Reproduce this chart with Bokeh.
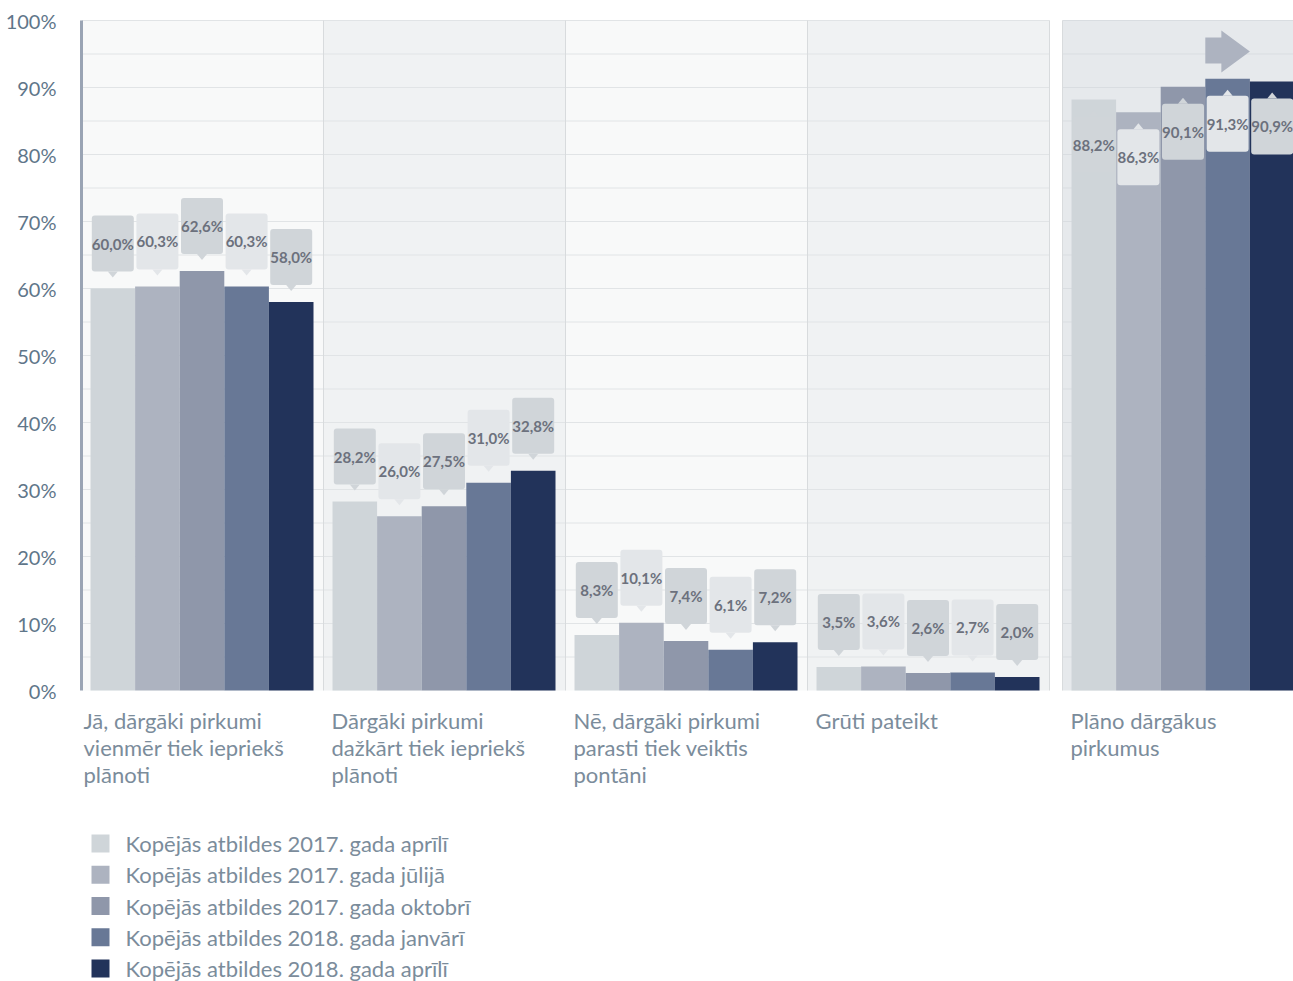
from bokeh.plotting import figure
from bokeh.models import Range1d, FixedTicker, ColumnDataSource
from bokeh.embed import file_html
from bokeh.resources import INLINE
from bokeh.core.properties import value

# ---------------- data ----------------
categories = [
    "Jā, dārgāki pirkumi\nvienmēr tiek iepriekš\nplānoti",
    "Dārgāki pirkumi\ndažkārt tiek iepriekš\nplānoti",
    "Nē, dārgāki pirkumi\nparasti tiek veiktis\npontāni",
    "Grūti pateikt",
    "Plāno dārgākus\npirkumus",
]
series_names = [
    "Kopējās atbildes 2017. gada aprīlī",
    "Kopējās atbildes 2017. gada jūlijā",
    "Kopējās atbildes 2017. gada oktobrī",
    "Kopējās atbildes 2018. gada janvārī",
    "Kopējās atbildes 2018. gada aprīlī",
]
apr_2017 = [60.0, 28.2, 8.3, 3.5, 88.2]
jul_2017 = [60.3, 26.0, 10.1, 3.6, 86.3]
okt_2017 = [62.6, 27.5, 7.4, 2.6, 90.1]
jan_2018 = [60.3, 31.0, 6.1, 2.7, 91.3]
apr_2018 = [58.0, 32.8, 7.2, 2.0, 90.9]
y_ticks = [0, 10, 20, 30, 40, 50, 60, 70, 80, 90, 100]
y_tick_labels = ["0%", "10%", "20%", "30%", "40%", "50%", "60%", "70%", "80%", "90%", "100%"]

series_values = [apr_2017, jul_2017, okt_2017, jan_2018, apr_2018]

# ---------------- styling / layout ----------------
bar_colors = ["#cfd5d9", "#adb3c0", "#8f97aa", "#687896", "#22335a"]
box_colors = ["#d0d5d9", "#e3e6e9", "#d0d5d9", "#e3e6e9", "#d0d5d9"]
W, H = 1293, 981
LEFT = 81
UNIT = 242.0          # px per category group
PX = 6.7              # px per percent
TOP_PAD = 20
x_end = (W - LEFT) / UNIT
y_top = 100 + TOP_PAD / PX
y_bot = y_top - H / PX

group_start = [0.0, 1.0, 2.0, 3.0, (1062 - LEFT) / UNIT]
bar_off = 9 / UNIT
bar_w = 44.6 / UNIT

FONT = "Lato"

p = figure(width=W, height=H, output_backend="svg", toolbar_location=None,
           x_range=Range1d(0, x_end), y_range=Range1d(y_bot, y_top),
           x_axis_type=None, min_border_left=LEFT, min_border_right=0,
           min_border_top=0, min_border_bottom=0)
p.xgrid.visible = False
p.ygrid.visible = False
p.outline_line_color = None
p.background_fill_color = "white"
p.border_fill_color = "white"

ax = p.yaxis[0]
ax.ticker = FixedTicker(ticks=y_ticks)
ax.major_label_overrides = {t: l for t, l in zip(y_ticks, y_tick_labels)}
ax.bounds = (0, 100)
ax.axis_line_color = "#9aa4b4"
ax.axis_line_width = 3
ax.major_tick_line_color = None
ax.minor_tick_line_color = None
ax.major_label_standoff = 19
ax.major_label_text_font = FONT
ax.major_label_text_font_size = "20px"
ax.major_label_text_color = "#5f768a"

# panel backgrounds
p.quad(left=[0, 1, 2, 3], right=[1, 2, 3, 4], bottom=0, top=100,
       fill_color=["#f8f9f9", "#f0f2f3", "#f8f9f9", "#f0f2f3"], line_color=None)
p.quad(left=[group_start[4]], right=[x_end + 0.1], bottom=0, top=100,
       fill_color="#e6e9ec", line_color=None)

# horizontal grid lines
gy = [5 * k for k in range(1, 21)]
p.segment(x0=[0] * len(gy), x1=[4] * len(gy), y0=gy, y1=gy, line_color="#e1e4e6", line_width=1)
p.segment(x0=[group_start[4]] * len(gy), x1=[x_end + 0.1] * len(gy), y0=gy, y1=gy,
          line_color="#d9dde1", line_width=1)
# vertical separators
vx = [1, 2, 3, 4, group_start[4]]
p.segment(x0=vx, x1=vx, y0=[0] * len(vx), y1=[100] * len(vx), line_color="#d8dbdd", line_width=1)

# bars
for s, vals in enumerate(series_values):
    xc = [group_start[g] + bar_off + (s + 0.5) * bar_w for g in range(len(categories))]
    src = ColumnDataSource(dict(x=xc, top=vals))
    p.vbar(x="x", top="top", bottom=0, width=bar_w, source=src,
           fill_color=bar_colors[s], line_color=None)

# callout labels
box_hw = 21 / UNIT
tri_hw = 5 / UNIT
for s, vals in enumerate(series_values):
    xs_c, bl, bt, ty, txt, txs, tys = [], [], [], [], [], [], []
    for g, v in enumerate(vals):
        xc = group_start[g] + bar_off + (s + 0.5) * bar_w
        lab = f"{v:.1f}".replace(".", ",") + "%"
        if g < 4:   # above the bar, pointer down
            b = v + 17 / PX
            t = v + 73 / PX
            c = v + 45 / PX
            tri_y = [b, b, v + 11 / PX]
        else:       # inside the bar, pointer up
            t = v - 17 / PX
            b = v - 73 / PX
            c = v - 45 / PX
            tri_y = [t, t, v - 11 / PX]
        xs_c.append(xc); bl.append(b); bt.append(t); ty.append(c); txt.append(lab)
        txs.append([xc - tri_hw, xc + tri_hw, xc]); tys.append(tri_y)
    p.quad(left=[x - box_hw for x in xs_c], right=[x + box_hw for x in xs_c],
           bottom=bl, top=bt, fill_color=box_colors[s], line_color=None, border_radius=3)
    p.patches(xs=txs, ys=tys, fill_color=box_colors[s], line_color=None)
    p.text(x=xs_c, y=ty, text=txt, text_align="center", text_baseline="middle",
           text_font=value(FONT), text_font_style="bold", text_font_size="15px",
           text_color="#6c717d")

# arrow above 4th series in last group
ax0 = group_start[4] + bar_off + 3 * bar_w
ax1 = ax0 + bar_w
axm = ax0 + 0.36 * bar_w
p.patch(x=[ax0, axm, axm, ax1, axm, axm, ax0],
        y=[97.46, 97.46, 98.5, 95.37, 92.24, 93.58, 93.58],
        fill_color="#adb3c0", line_color=None)

# category labels
cx, cy, ct = [], [], []
for g, cat in enumerate(categories):
    for j, line in enumerate(cat.split("\n")):
        cx.append(group_start[g] + (2 if g == 0 else 8) / UNIT)
        cy.append(-(30 + 27 * j) / PX)
        ct.append(line)
p.text(x=cx, y=cy, text=ct, text_align="left", text_baseline="middle",
       text_font=value(FONT), text_font_size="22px", text_color="#7b8c9b")

# legend
ly = [-(843 - 690 + 31.25 * k) / PX for k in range(len(series_names))]
p.scatter(x=[(100 - LEFT) / UNIT] * len(series_names), y=ly, marker="square", size=18,
          fill_color=bar_colors, line_color=None)
p.text(x=[(125 - LEFT) / UNIT] * len(series_names), y=ly, text=series_names,
       text_align="left", text_baseline="middle", text_font=value(FONT),
       text_font_size="22px", text_color="#7b8c9b")

open("out.html", "w").write(file_html(p, INLINE))
